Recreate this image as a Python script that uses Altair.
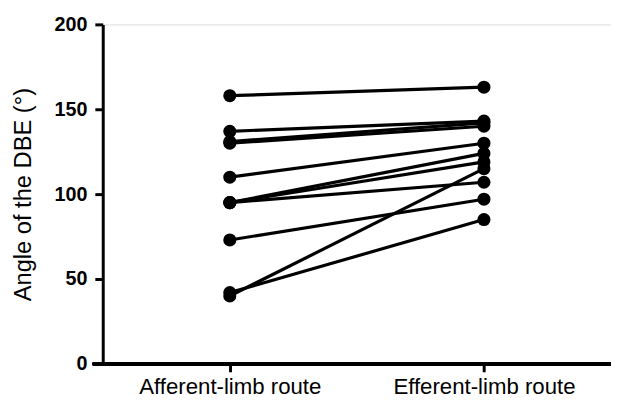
import altair as alt
import pandas as pd

groups = ["Afferent-limb route", "Efferent-limb route"]
subjects = list(range(1, 12))
afferent = [158, 137, 131, 130, 110, 95, 95, 95, 73, 42, 40]
efferent = [163, 143, 142, 140, 130, 124, 119, 107, 97, 85, 115]

rows = []
for s, a, e in zip(subjects, afferent, efferent):
    rows.append({"subject": s, "group": groups[0], "angle": a})
    rows.append({"subject": s, "group": groups[1], "angle": e})
df = pd.DataFrame(rows)

W, H = 515, 344
FONT = "Liberation Sans"

x = alt.X("group:N", sort=groups,
          scale=alt.Scale(type="point", padding=0.5),
          axis=alt.Axis(title=None, labelAngle=0, labelFontSize=22.5, labelFont=FONT,
                        labelColor="black", labelPadding=4, labelLimit=400,
                        tickSize=8, tickWidth=3, tickColor="black", domain=False))
y = alt.Y("angle:Q", scale=alt.Scale(domain=[0, 200], nice=False),
          axis=alt.Axis(title="Angle of the DBE (°)", values=[0, 50, 100, 150, 200],
                        titleFont=FONT, titleFontSize=24, titleFontWeight="normal",
                        titleColor="black", titlePadding=19,
                        labelFont=FONT, labelFontSize=20, labelFontWeight="bold",
                        labelColor="black", labelPadding=8, tickSize=8, tickWidth=3,
                        tickColor="black", domainWidth=3, domainColor="black", grid=False))

lines = alt.Chart(df).mark_line(color="black", strokeWidth=3.2).encode(
    x=x, y=y, detail="subject:N")
points = alt.Chart(df).mark_circle(color="black", opacity=1, size=175).encode(
    x=x, y=y)
xaxis = alt.Chart(df).mark_rule(color="black", strokeWidth=3).encode(
    x=alt.value(-10), x2=alt.value(W), y=alt.value(H))

chart = alt.layer(xaxis, lines, points).properties(
    width=W, height=H,
    autosize=alt.AutoSizeParams(type="none"),
    padding={"left": 96, "top": 14, "right": 0, "bottom": 34},
).configure_view(stroke=None).configure(background="white")

chart.save("out.html", embed_options={"renderer": "svg", "actions": False})
